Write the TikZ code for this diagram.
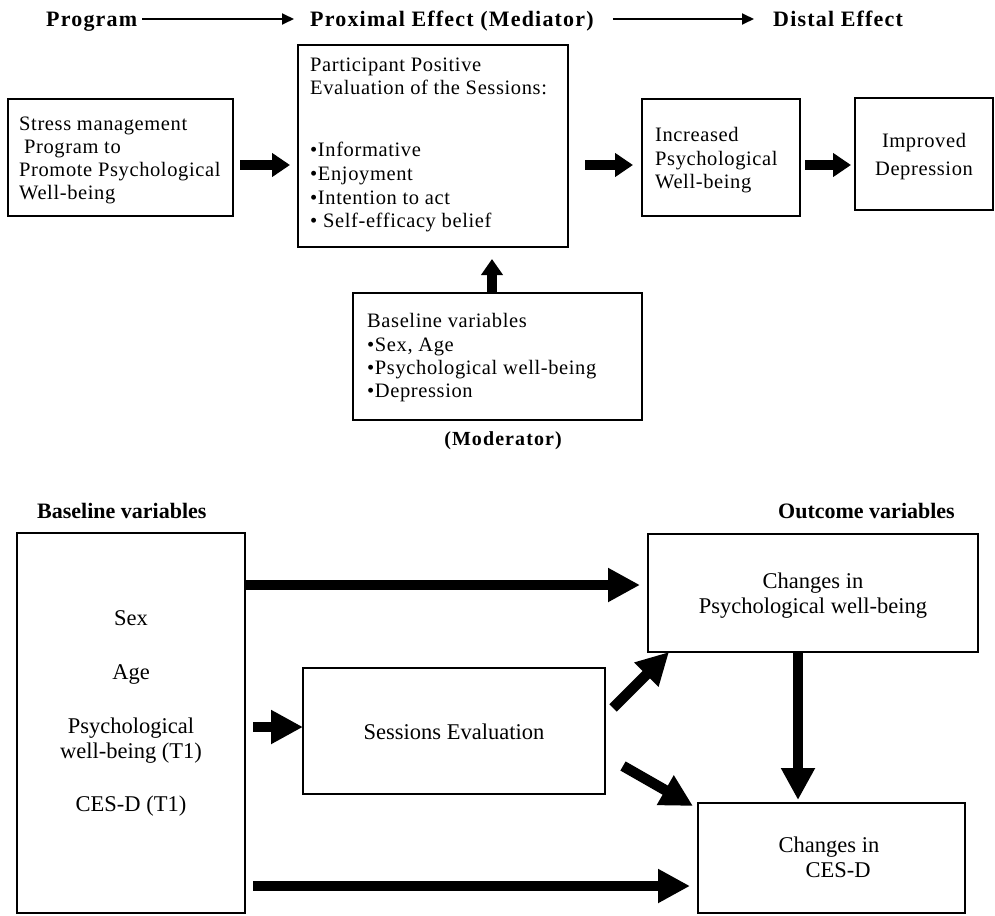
\documentclass[tikz,border=0pt]{standalone}
\usepackage{fontspec}
\setmainfont{Liberation Serif}
\newfontfamily\spfont[LetterSpace=3]{Liberation Serif}
\newfontfamily\hdfont[LetterSpace=5.4]{Liberation Serif}
\usetikzlibrary{arrows.meta,calc}
\begin{document}
\begin{tikzpicture}[x=1pt,y=-1pt,
  box/.style={draw, line width=1.1pt, inner sep=0pt, outer sep=0pt, anchor=north west},
  lt/.style={inner sep=0pt, anchor=base west, font=\spfont\fontsize{20.5}{23}\selectfont},
  mt/.style={inner sep=0pt, anchor=base, font=\spfont\fontsize{20.5}{23}\selectfont},
  ct/.style={inner sep=0pt, anchor=base, font=\fontsize{22.5}{25}\selectfont},
  hd/.style={inner sep=0pt, anchor=base west, font=\hdfont\bfseries\fontsize{22}{24}\selectfont},
  bh/.style={inner sep=0pt, anchor=base west, font=\bfseries\fontsize{22}{24}\selectfont},
  thinarrow/.style={line width=1.8pt, -{Triangle[length=12pt,width=11pt]}},
  fat/.style={line width=10pt, -{Triangle[length=18pt,width=23pt]}},
  fatb/.style={line width=10.5pt, -{Triangle[length=32pt,width=32pt]}},
]
\useasboundingbox (0,0) rectangle (995,915);

% ---------- header ----------
\node[hd] (prog) at (46,27) {Program};
\node[hd] (prox) at (310,27) {Proximal Effect (Mediator)};
\node[hd] (dist) at (773,27) {Distal Effect};
\coordinate (hy) at (0,19);
\draw[thinarrow, shorten <=5pt, shorten >=16pt] (prog.east |- hy) -- (prox.west |- hy);
\draw[thinarrow, shorten <=19pt, shorten >=19pt] (prox.east |- hy) -- (dist.west |- hy);

% ---------- top boxes ----------
\node[box, minimum width=225pt, minimum height=117pt] (b1) at (8,99) {};
\node[lt] (b1a) at (19,130) {Stress management};
\node[lt] (b1b) at (24,153) {Program to};
\node[lt] (b1c) at (19,176) {Promote Psychological};
\node[lt] (b1d) at (19,199) {Well-being};

\node[box, minimum width=270pt, minimum height=202pt] (b2) at (298,45) {};
\node[lt] (b2a) at (310,72) {Participant Positive};
\node[lt] (b2b) at (310,95) {Evaluation of the Sessions:};
\node[lt] (b2c) at (310,157) {•Informative};
\node[lt] (b2d) at (310,180) {•Enjoyment};
\node[lt] (b2e) at (310,204) {•Intention to act};
\node[lt] (b2f) at (310,227) {• Self-efficacy belief};

\node[box, minimum width=158pt, minimum height=117pt] (b3) at (642,99) {};
\node[lt] (b3a) at (655,141) {Increased};
\node[lt] (b3b) at (655,165) {Psychological};
\node[lt] (b3c) at (655,188) {Well-being};

\node[box, minimum width=138pt, minimum height=112pt] (b4) at (855,98) {};
\node[mt] (b4a) at (924,147) {Improved};
\node[mt] (b4b) at (924,175) {Depression};

\node[box, minimum width=289pt, minimum height=127pt] (b5) at (353,293) {};
\node[lt] (b5a) at (367,327) {Baseline variables};
\node[lt] (b5b) at (367,351) {•Sex, Age};
\node[lt] (b5c) at (367,374) {•Psychological well-being};
\node[lt] (b5d) at (367,397) {•Depression};
\node[hd, anchor=base, font=\hdfont\bfseries\fontsize{20}{22}\selectfont] (mod) at (503,445) {(Moderator)};

\coordinate (ya) at (0,165);
\coordinate (yb) at (0,165);
\coordinate (xu) at (492,0);
\draw[fat, shorten <=7pt, shorten >=8pt] (b1.east |- ya) -- (b2.west |- ya);
\draw[fat, shorten <=17pt, shorten >=9pt] (b2.east |- yb) -- (b3.west |- yb);
\draw[fat, shorten <=5pt, shorten >=4pt] (b3.east |- yb) -- (b4.west |- yb);
\draw[line width=10pt, -{Triangle[length=16pt,width=21pt]}, shorten >=12pt] (xu |- b5.north) -- (xu |- b2.south);

% ---------- bottom ----------
\node[bh] (blh) at (37,518) {Baseline variables};
\node[bh] (ouh) at (778,518) {Outcome variables};

\node[box, minimum width=228pt, minimum height=380pt] (L) at (17,533) {};
\node[ct] (sex) at (131,625) {Sex};
\node[ct] (age) at (131,679) {Age};
\node[ct] (pwb1) at (131,733) {Psychological};
\node[ct] (pwb2) at (131,758) {well-being (T1)};
\node[ct] (cesd) at (131,811) {CES-D (T1)};

\node[box, minimum width=302pt, minimum height=126pt] (SE) at (303,668) {};
\node[ct] (set) at (454,739) {Sessions Evaluation};

\node[box, minimum width=330pt, minimum height=118pt] (CPW) at (648,534) {};
\node[ct] (cpa) at (813,588) {Changes in};
\node[ct] (cpb) at (813,613) {Psychological well-being};

\node[box, minimum width=267pt, minimum height=110pt] (CC) at (698,803) {};
\node[ct] (cca) at (829,852) {Changes in};
\node[ct] (ccb) at (838,877) {CES-D};

\coordinate (y1) at (0,585);
\coordinate (y2) at (0,727);
\coordinate (y3) at (0,886);
\coordinate (xv) at (798,0);
\draw[fatb, shorten >=8pt] (L.east |- y1) -- (CPW.west |- y1);
\draw[fatb, shorten <=8pt] (L.east |- y2) -- (SE.west |- y2);
\draw[fatb, shorten <=8pt, shorten >=8pt] (L.east |- y3) -- (CC.west |- y3);
\draw[fatb] ($(SE.north east)+(8,40)$) -- ($(CPW.south west)+(21,0)$);
\draw[fatb] ($(SE.south east)+(18,-28)$) -- ($(CC.north west)+(-5,3)$);
\draw[fatb, shorten >=3pt] (xv |- CPW.south) -- (xv |- CC.north);
\end{tikzpicture}
\end{document}
